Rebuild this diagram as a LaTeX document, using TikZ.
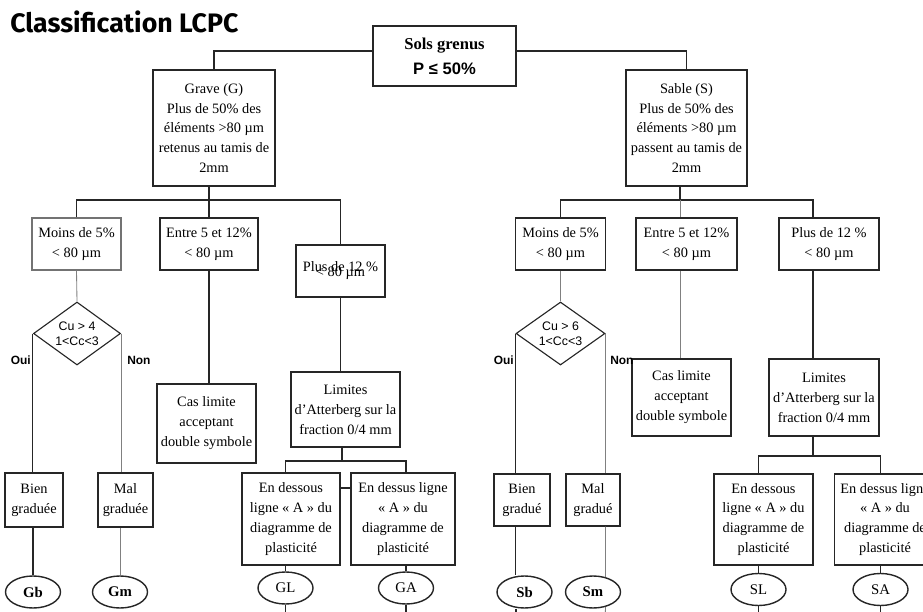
\documentclass[tikz,border=0pt]{standalone}
\usepackage{fontspec}
\setmainfont{Liberation Serif}
\newfontfamily\arialfont{Liberation Sans}
\newfontfamily\titlefont{Fira Sans}
\usetikzlibrary{shapes,calc}

\begin{document}
\begin{tikzpicture}[x=0.025cm,y=-0.025cm]

\tikzstyle{line} = [draw, black!85, line width=0.8pt]
\tikzstyle{thinline} = [draw, black!50, line width=0.6pt]
\tikzstyle{block} = [draw=black!85, line width=0.8pt, rectangle, align=center, inner sep=0pt, text=black, font=\fontsize{10.2}{14.2}\selectfont]
\tikzstyle{bigblock} = [block, line width=1.3pt]
\tikzstyle{test} = [draw=black!85, line width=0.8pt, diamond, aspect=1.38, inner sep=0pt, align=center, text=black, font=\arialfont\fontsize{8.8}{11}\selectfont]
\tikzstyle{elli} = [draw=black!85, line width=1pt, ellipse, inner sep=0pt, minimum width=1.375cm, minimum height=0.8cm, text=black, font=\fontsize{10.5}{12}\selectfont]
\tikzstyle{answer} = [inner sep=0pt, font=\arialfont\bfseries\fontsize{8.5}{10}\selectfont]

\clip (0,0) rectangle (923,612);

% title
\node [anchor=west, inner sep=0pt, font=\titlefont\bfseries\fontsize{19}{21}\selectfont] (title) at (10,22) {Classification LCPC};

\node [bigblock, minimum width=3.575cm, minimum height=1.5cm, font=\bfseries\fontsize{11.8}{17.7}\selectfont] (root) at (444.5,56) {Sols grenus\\{\arialfont P ≤ 50\%}};

%gravel side
\node [bigblock, minimum width=3.05cm, minimum height=2.9cm] (grave) at (214,128) {Grave (G)\\Plus de 50\% des\\éléments >80 µm\\retenus au tamis de\\2mm};
\node [block, draw=black!55, minimum width=2.225cm, minimum height=1.3cm] (moinsG) at (76.5,244) {Moins de 5\%\\< 80 µm};
\node [block, minimum width=2.45cm, minimum height=1.3cm] (entreG) at (209,244) {Entre 5 et 12\%\\< 80 µm};
\node [block, minimum width=2.225cm, minimum height=1.3cm] (plusG) at (340.5,271) {Plus de 12 \%\\[-10.7pt]< 80 µm};
\node [test, minimum width=2.175cm, minimum height=1.575cm] (cuG) at (77,333.5) {Cu > 4\\1<Cc<3};
\node [answer, anchor=east] (ouiG) at (31,360) {Oui};
\node [answer, anchor=west] (nonG) at (127,360) {Non};
\node [block, minimum width=2.475cm, minimum height=1.975cm] (casG) at (206.5,423.5) {Cas limite\\acceptant\\double symbole};
\node [block, minimum width=2.725cm, minimum height=1.875cm] (limG) at (345.5,409.5) {Limites\\d’Atterberg sur la\\fraction 0/4 mm};
\node [block, minimum width=1.45cm, minimum height=1.35cm] (bienG) at (34,500) {Bien\\graduée};
\node [block, minimum width=1.375cm, minimum height=1.35cm] (malG) at (125.5,500) {Mal\\graduée};
\node [block, minimum width=2.45cm, minimum height=2.3cm] (dessousG) at (291,519) {En dessous\\ligne « A » du\\diagramme de\\plasticité};
\node [block, minimum width=2.6cm, minimum height=2.3cm] (dessusG) at (403,519) {En dessus ligne\\« A » du\\diagramme de\\plasticité};
\node [elli, font=\bfseries\fontsize{10.5}{12}\selectfont] (gbG) at (33,592) {Gb};
\node [elli, font=\bfseries\fontsize{10.5}{12}\selectfont] (gmG) at (120,592) {Gm};
\node [elli] (glG) at (285.5,588) {GL};
\node [elli] (gaG) at (406,588) {GA};

%sand side
\node [bigblock, minimum width=3.025cm, minimum height=2.9cm] (sable) at (686.5,128) {Sable (S)\\Plus de 50\% des\\éléments >80 µm\\passent au tamis de\\2mm};
\node [block, minimum width=2.25cm, minimum height=1.3cm] (moinsS) at (560.5,244) {Moins de 5\%\\< 80 µm};
\node [block, minimum width=2.525cm, minimum height=1.3cm] (entreS) at (686.5,244) {Entre 5 et 12\%\\< 80 µm};
\node [block, minimum width=2.5cm, minimum height=1.3cm] (plusS) at (829,244) {Plus de 12 \%\\< 80 µm};
\node [test, minimum width=2.225cm, minimum height=1.575cm] (cuS) at (560.5,333.5) {Cu > 6\\1<Cc<3};
\node [answer, anchor=east] (ouiS) at (514,360) {Oui};
\node [block, minimum width=2.475cm, minimum height=1.925cm] (casS) at (681.5,397.5) {Cas limite\\acceptant\\double symbole};
\node [answer, anchor=west] (nonS) at (610,360) {Non};
\node [block, minimum width=2.75cm, minimum height=1.925cm] (limS) at (824,397.5) {Limites\\d’Atterberg sur la\\fraction 0/4 mm};
\node [block, minimum width=1.4cm, minimum height=1.3cm] (bienS) at (522,500) {Bien\\gradué};
\node [block, minimum width=1.35cm, minimum height=1.3cm] (malS) at (593,500) {Mal\\gradué};
\node [block, minimum width=2.475cm, minimum height=2.275cm] (dessousS) at (763.5,519.5) {En dessous\\ligne « A » du\\diagramme de\\plasticité};
\node [block, minimum width=2.525cm, minimum height=2.275cm] (dessusS) at (885,519.5) {En dessus ligne\\« A » du\\diagramme de\\plasticité};
\node [elli, font=\bfseries\fontsize{10.5}{12}\selectfont] (sbS) at (524.5,592) {Sb};
\node [elli, font=\bfseries\fontsize{10.5}{12}\selectfont] (smS) at (593,592) {Sm};
\node [elli] (slS) at (758.5,589.5) {SL};
\node [elli] (saS) at (880.5,589.5) {SA};

\coordinate (busG) at (209,200);
\coordinate (busLG) at (342,461);
\coordinate (busS) at (680,200);
\coordinate (vS) at (813,456);
\coordinate (endGL) at (285.5,620);
\coordinate (endGA) at (406,620);
\coordinate (endSb) at (516,620);
\coordinate (endSm) at (605,620);
\coordinate (endSL) at (758.5,620);
\coordinate (endSA) at (880.5,620);

%connectors, gravel
\path [line] ($(root.west)+(0,-5)$) -| (grave.north);
\path [line] (grave.south -| busG) -- (busG);
\path [line] (moinsG.north) |- (busG) -| (plusG.north);
\path [line] (busG) -- (entreG.north);
\path [thinline] (moinsG.south) -- (cuG.north);
\path [line] (cuG.west) -- (bienG.north -| cuG.west);
\path [thinline] (cuG.east) -- (malG.north -| cuG.east);
\path [line] (bienG.south -| gbG) -- (gbG.north);
\path [thinline] (malG.south -| gmG) -- (gmG.north);
\path [line] (entreG.south) -- (casG.north -| entreG.south);
\path [line] (plusG.south) -- (limG.north -| plusG.south);
\path [line] (limG.south -| busLG) -- (busLG);
\path [line] (dessousG.north -| glG) |- (busLG) -| (dessusG.north -| gaG);
\path [line] ($(dessousG.east)+(0,-31)$) -- ($(dessusG.west)+(0,-31)$);
\path [line] (dessousG.south -| glG) -- (glG.north);
\path [line] (dessusG.south -| gaG) -- (gaG.north);
\path [line] (glG.south) -- (endGL);
\path [line] (gaG.south) -- (endGA);

%connectors, sand
\path [line] ($(root.east)+(0,-5)$) -| (sable.north);
\path [line] (sable.south -| busS) -- (busS);
\path [line] (moinsS.north) |- (busS) -| (plusS.north -| vS);
\path [thinline] (busS) -- (entreS.north -| busS);
\path [thinline] (moinsS.south) -- (cuS.north);
\path [line] (cuS.west) -- (bienS.north -| cuS.west);
\path [thinline] (cuS.east) -- (malS.north -| cuS.east);
\path [line] (bienS.south -| cuS.west) -- (sbS.north -| cuS.west);
\path [thinline] (malS.south -| cuS.east) -- (smS.50);
\path [thinline] (entreS.south -| busS) -- (casS.north -| busS);
\path [line] (plusS.south -| vS) -- (limS.north -| vS);
\path [line] (limS.south -| vS) -- (vS);
\path [line] (dessousS.north -| slS) |- (vS) -| (dessusS.north -| saS);
\path [line] (dessousS.south -| slS) -- (slS.north);
\path [line] (dessusS.south -| saS) -- (saS.north);
\path [line] (sbS.south -| endSb) -- (endSb);
\path [thinline] (smS.-50) -- (endSm);
\path [line] (slS.south) -- (endSL);
\path [line] (saS.south) -- (endSA);
\end{tikzpicture}
\end{document}
